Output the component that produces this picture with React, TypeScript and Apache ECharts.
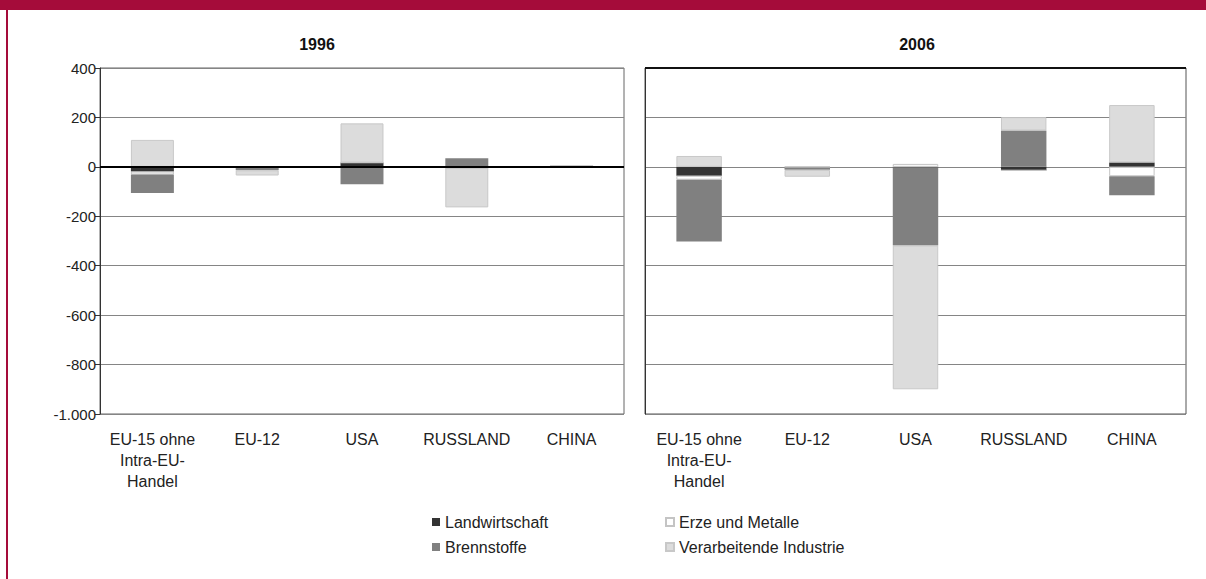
import React, { useEffect, useRef } from "react";
import * as echarts from "echarts";

const categories = ["EU-15 ohne\nIntra-EU-\nHandel", "EU-12", "USA", "RUSSLAND", "CHINA"];
const seriesNames = ["Landwirtschaft", "Erze und Metalle", "Brennstoffe", "Verarbeitende Industrie"];

// 1996 (order: EU-15, EU-12, USA, RUSSLAND, CHINA)
const land1996 = [-19, -2, 17, -5, 0];
const erze1996 = [-12, 0, 0, 0, 0];
const brenn1996 = [-75, -12, -70, 35, 4];
const verarb1996 = [109, -21, 159, -159, 0];

// 2006
const land2006 = [-36, -4, -3, -14, 18];
const erze2006 = [-16, 0, 12, 0, -38];
const brenn2006 = [-250, -8, -315, 147, -77];
const verarb2006 = [44, -28, -582, 54, 232];

const yMin = -1000;
const yMax = 400;
const yStep = 200;

const FONT = "'Liberation Sans', Arial, Helvetica, sans-serif";

const styles: Record<string, any> = {
  "Landwirtschaft": { color: "#333333", borderColor: "#333333", borderWidth: 0 },
  "Erze und Metalle": { color: "#ffffff", borderColor: "#c4c4c4", borderWidth: 1 },
  "Brennstoffe": { color: "#808080", borderColor: "#808080", borderWidth: 0 },
  "Verarbeitende Industrie": { color: "#dcdcdc", borderColor: "#c8c8c8", borderWidth: 1 },
};

function fmt(v: number): string {
  const s = Math.abs(v).toString();
  const withDots = s.replace(/\B(?=(\d{3})+(?!\d))/g, ".");
  return (v < 0 ? "-" : "") + withDots;
}

export default function App() {
  const ref = useRef<HTMLDivElement>(null);

  useEffect(() => {
    if (!ref.current) return;
    const chart = echarts.init(ref.current, undefined, { renderer: "svg" });

    const data1996 = [land1996, erze1996, brenn1996, verarb1996];
    const data2006 = [land2006, erze2006, brenn2006, verarb2006];

    const mkSeries = (idx: number, datasets: number[][], stack: string, barWidth: string, markLine: any) =>
      seriesNames.map((name, i) => ({
        name,
        type: "bar",
        xAxisIndex: idx,
        yAxisIndex: idx,
        stack,
        barWidth,
        data: datasets[i],
        itemStyle: styles[name],
        z: i === 3 ? 3 : 2,
        emphasis: { disabled: true },
        ...(i === 3 ? { markLine } : {}),
      }));

    const zeroLine = {
      silent: true,
      symbol: ["none", "none"],
      label: { show: false },
      lineStyle: { color: "#000", width: 2, type: "solid" },
      data: [{ yAxis: 0 }],
    };
    const topLine = {
      silent: true,
      symbol: ["none", "none"],
      label: { show: false },
      lineStyle: { color: "#111", width: 2, type: "solid" },
      data: [{ yAxis: yMax }],
    };

    const xAxisBase = {
      type: "category",
      data: categories,
      axisLine: { show: false },
      axisTick: { show: false },
      axisLabel: {
        color: "#222",
        fontSize: 16,
        lineHeight: 21,
        fontFamily: FONT,
        margin: 15,
        interval: 0,
      },
    };

    const yAxisBase = {
      type: "value",
      min: yMin,
      max: yMax,
      interval: yStep,
      splitLine: { show: true, lineStyle: { color: "#858585", width: 1 } },
    };

    const legendText = { color: "#222", fontSize: 16, fontFamily: FONT };

    chart.setOption({
      animation: false,
      backgroundColor: "#ffffff",
      textStyle: { fontFamily: FONT },
      grid: [
        { left: 100, top: 68, width: 524, height: 346, show: true, borderColor: "#666", borderWidth: 1 },
        { left: 645, top: 68, width: 541, height: 346, show: true, borderColor: "#555", borderWidth: 1 },
      ],
      xAxis: [
        { ...xAxisBase, gridIndex: 0 },
        { ...xAxisBase, gridIndex: 1 },
      ],
      yAxis: [
        {
          ...yAxisBase,
          gridIndex: 0,
          axisLine: { show: true, lineStyle: { color: "#333", width: 1 } },
          axisTick: { show: true, length: 5, lineStyle: { color: "#333" } },
          axisLabel: { color: "#222", fontSize: 15, fontFamily: FONT, margin: 4, formatter: (v: number) => fmt(v) },
        },
        {
          ...yAxisBase,
          gridIndex: 1,
          axisLine: { show: true, lineStyle: { color: "#333", width: 1 } },
          axisTick: { show: false },
          axisLabel: { show: false },
        },
      ],
      legend: [
        {
          data: ["Landwirtschaft", "Brennstoffe"],
          orient: "vertical",
          left: 427,
          top: 509,
          itemWidth: 8,
          itemHeight: 8,
          itemGap: 9,
          icon: "rect",
          selectedMode: false,
          textStyle: legendText,
        },
        {
          data: ["Erze und Metalle", "Verarbeitende Industrie"],
          orient: "vertical",
          left: 660,
          top: 509,
          itemWidth: 8,
          itemHeight: 8,
          itemGap: 9,
          icon: "rect",
          selectedMode: false,
          textStyle: legendText,
        },
      ],
      graphic: [
        { type: "rect", shape: { x: 0, y: 0, width: 1206, height: 10 }, style: { fill: "#a50c3a" }, silent: true },
        { type: "rect", shape: { x: 6, y: 0, width: 2, height: 579 }, style: { fill: "#a50c3a" }, silent: true },
        {
          type: "text",
          x: 317,
          y: 44,
          style: { text: "1996", font: `bold 16px ${FONT}`, fill: "#111", textAlign: "center", textVerticalAlign: "middle" },
          silent: true,
        },
        {
          type: "text",
          x: 917,
          y: 44,
          style: { text: "2006", font: `bold 16px ${FONT}`, fill: "#111", textAlign: "center", textVerticalAlign: "middle" },
          silent: true,
        },
      ],
      series: [
        ...mkSeries(0, data1996, "s1996", "41%", zeroLine),
        ...mkSeries(1, data2006, "s2006", "42%", topLine),
      ],
    });

    return () => chart.dispose();
  }, []);

  return (
    <div
      ref={ref}
      style={{ position: "fixed", left: 0, top: 0, width: 1206, height: 579, background: "#fff" }}
    />
  );
}
